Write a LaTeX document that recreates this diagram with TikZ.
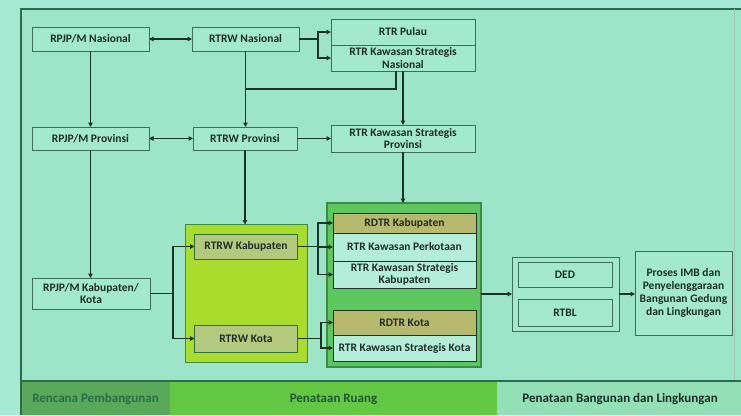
\documentclass[tikz,border=0pt]{standalone}
\usepackage{fontspec}
\setmainfont{Carlito}
\usetikzlibrary{arrows.meta}
\definecolor{bg}{HTML}{A4E9D2}
\definecolor{inner}{HTML}{9CE5C8}
\definecolor{boxfill}{HTML}{A3E9CF}
\definecolor{bord}{HTML}{3E6E58}
\definecolor{frame}{HTML}{2F6A4A}
\definecolor{conn}{HTML}{1C3326}
\definecolor{txt}{HTML}{1E2E26}
\definecolor{kabgreen}{HTML}{A9DC2C}
\definecolor{kabcell}{HTML}{B3C97E}
\definecolor{rdgreen}{HTML}{5EC65E}
\definecolor{rdbord}{HTML}{3C8C46}
\definecolor{tan}{HTML}{B7BA6E}
\definecolor{lightcell}{HTML}{B4EEDA}
\definecolor{banddark}{HTML}{58A95A}
\definecolor{bandmid}{HTML}{63C944}
\definecolor{bandlight}{HTML}{94E0B6}
\begin{document}
\begin{tikzpicture}[x=1pt,y=-1pt,
  box/.style={draw=bord, fill=boxfill, line width=0.9pt, inner sep=1pt, outer sep=0pt,
    align=center, text=txt, font=\fontsize{11.5}{12.5}\selectfont\bfseries},
  cell/.style={box, draw=conn, line width=0.8pt},
  conline/.style={draw=conn, line width=1.2pt},
  arr/.style={conline, -{Triangle[length=4.5pt,width=4.5pt]}},
  darr/.style={conline, {Triangle[length=4.5pt,width=4.5pt]}-{Triangle[length=4.5pt,width=4.5pt]}},
  bandtxt/.style={font=\fontsize{13}{14}\selectfont\bfseries, inner sep=0pt}]
\fill[bg] (0,0) rectangle (741,415);
\useasboundingbox (0,0) rectangle (741,415);
% frame
\fill[inner] (21,9) rectangle (741,381);
\draw[frame, line width=1.1pt] (21,381) -- (21,9) -- (741,9);
\draw[frame!40, line width=0.8pt] (734,9) -- (734,381);
% bottom band
\fill[banddark] (21,381) rectangle (170,415);
\fill[bandmid] (170,381) rectangle (497,415);
\fill[bandlight] (497,381) rectangle (741,415);
\draw[frame, line width=1.1pt] (21,381) -- (741,381);
\draw[frame, line width=1.1pt] (21,381) -- (21,415);
\node[bandtxt, text=frame] (b1) at (95.5,399) {Rencana Pembangunan};
\node[bandtxt, text=frame!80!black] (b2) at (333.5,399) {Penataan Ruang};
\node[bandtxt, text=txt] (b3) at (620,399) {Penataan Bangunan dan Lingkungan};

% top boxes
\node[box, minimum width=117, minimum height=24] (rpn) at (90.5,39) {RPJP/M Nasional};
\node[box, minimum width=107, minimum height=24] (rtn) at (245.5,39) {RTRW Nasional};
\node[box, minimum width=144, minimum height=26] (pulau) at (403,32) {RTR Pulau};
\node[box, minimum width=144, minimum height=26] (ksn) at (403,58) {RTR Kawasan Strategis\\Nasional};
\node[box, minimum width=117, minimum height=23] (rpp) at (90.5,138.5) {RPJP/M Provinsi};
\node[box, minimum width=104, minimum height=23] (rtp) at (245,138.5) {RTRW Provinsi};
\node[box, minimum width=144, minimum height=27] (ksp) at (403,138.5) {RTR Kawasan Strategis\\Provinsi};
\node[box, minimum width=118, minimum height=31] (rpk) at (91,293.5) {RPJP/M Kabupaten/\\Kota};

% kabupaten/kota group
\node[box, fill=kabgreen, draw=rdbord, minimum width=122, minimum height=138] (kab) at (246,293.5) {};
\node[box, fill=kabcell, draw=rdbord!80!black, minimum width=103, minimum height=25] (rtkab) at (246,246.5) {RTRW Kabupaten};
\node[box, fill=kabcell, draw=rdbord!80!black, minimum width=103, minimum height=27] (rtkota) at (246,338.5) {RTRW Kota};

% RDTR group
\node[box, fill=rdgreen, draw=rdbord, line width=1.4pt, minimum width=154, minimum height=164] (grp) at (404,285) {};
\node[cell, fill=tan, minimum width=143, minimum height=20] (rdkab) at (404.5,223) {RDTR Kabupaten};
\node[cell, fill=lightcell, minimum width=143, minimum height=28] (perk) at (404.5,247) {RTR Kawasan Perkotaan};
\node[cell, fill=lightcell, minimum width=143, minimum height=27] (kskab) at (404.5,274.5) {RTR Kawasan Strategis\\Kabupaten};
\node[cell, fill=tan, minimum width=143, minimum height=25] (rdkota) at (404.5,322.5) {RDTR Kota};
\node[cell, fill=lightcell, minimum width=143, minimum height=26] (kskota) at (404.5,348) {RTR Kawasan Strategis Kota};

% DED / RTBL
\node[box, minimum width=107, minimum height=74] (dedbox) at (565.5,294) {};
\node[box, minimum width=94, minimum height=25] (ded) at (565,274.5) {DED};
\node[box, minimum width=94, minimum height=27] (rtbl) at (565,312.5) {RTBL};
\node[box, minimum width=97, minimum height=84, font=\fontsize{11.5}{13.2}\selectfont\bfseries] (proses) at (683.5,293) {Proses IMB dan\\Penyelenggaraan\\Bangunan Gedung\\dan Lingkungan};

% connectors
\draw[darr] (rpn.east) -- (rtn.west);
\draw[darr] (rpp.east) -- (rtp.west);
\coordinate (k1) at (318,39);
\draw[conline] (rtn.east) -- (k1);
\draw[arr] (k1) |- (pulau.west);
\draw[arr] (k1) |- (ksn.west);
\draw[arr] (rtn.south) -- (rtn.south |- rtp.north);
\coordinate (j1) at (245.5,89);
\coordinate (j2) at (396,71);
\draw[conline] (j1) -| (j2);
\draw[arr] (ksn.south) -- (ksp.north);
\draw[arr] (rpn.south) -- (rpn.south |- rpp.north);
\draw[arr] (rtp.east) -- (ksp.west);
\draw[arr] (rpp.south) -- (rpp.south |- rpk.north);
\draw[arr] (rtp.south) -- (rtp.south |- kab.north);
\draw[arr] (ksp.south) -- (ksp.south |- grp.north);
\coordinate (k2) at (173,293.5);
\draw[conline] (rpk.east) -- (k2);
\draw[arr] (k2) |- (rtkab.west);
\draw[arr] (k2) |- (rtkota.west);
\coordinate (k3) at (318,246.5);
\draw[conline] (rtkab.east) -- (k3);
\draw[arr] (k3) |- (rdkab.west);
\draw[arr] (k3) |- (perk.west);
\draw[arr] (k3) |- (kskab.west);
\coordinate (k4) at (321,338.5);
\draw[conline] (rtkota.east) -- (k4);
\draw[arr] (k4) |- (rdkota.west);
\draw[arr] (k4) |- (kskota.west);
\draw[arr] (grp.east |- dedbox.west) -- (dedbox.west);
\draw[arr] (dedbox.east) -- (dedbox.east -| proses.west);
\end{tikzpicture}
\end{document}
